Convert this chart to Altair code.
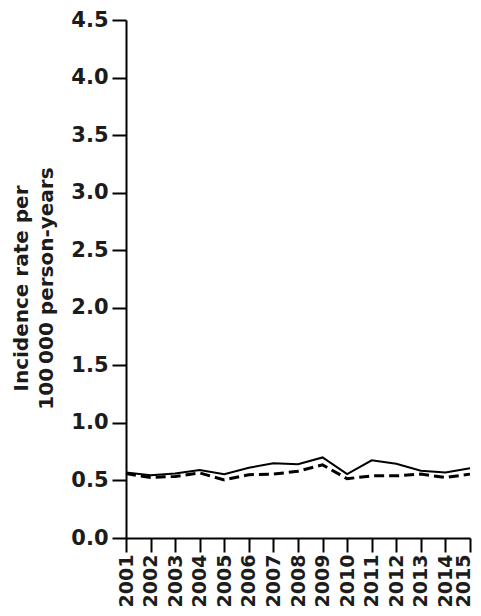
import altair as alt
import pandas as pd

years = list(range(2001, 2016))
solid = [0.57, 0.545, 0.56, 0.59, 0.555, 0.61, 0.65, 0.64, 0.70, 0.555, 0.675, 0.645, 0.585, 0.57, 0.605]
dashed = [0.56, 0.525, 0.535, 0.565, 0.505, 0.55, 0.555, 0.58, 0.635, 0.515, 0.54, 0.54, 0.555, 0.525, 0.555]
y_ticks = [0.0, 0.5, 1.0, 1.5, 2.0, 2.5, 3.0, 3.5, 4.0, 4.5]
y_title = ["Incidence rate per", "100\u2009000 person-years"]

rows = []
for yr, v in zip(years, solid):
    rows.append({"year": yr, "rate": v, "series": "solid"})
for yr, v in zip(years, dashed):
    rows.append({"year": yr, "rate": v, "series": "dashed"})
df = pd.DataFrame(rows)

FONT = "DejaVu Sans"
INK = "#1c1c1c"

base = alt.Chart(df).encode(
    x=alt.X("year:Q",
            scale=alt.Scale(domain=[2001, 2015], nice=False, zero=False),
            axis=alt.Axis(values=years, format="d", labelAngle=-90, labelAlign="right",
                          labelBaseline="middle", labelPadding=2, tickSize=14, tickWidth=2,
                          domainWidth=2, domainColor="black", tickColor="black",
                          labelFont=FONT, labelFontSize=19, labelFontWeight="bold",
                          labelColor=INK, grid=False, title=None, labelOverlap=False,
                          labelFlush=False,
                          labelOffset={"condition": {"test": "datum.value === 2015", "value": -7},
                                       "value": 0})),
    y=alt.Y("rate:Q",
            scale=alt.Scale(domain=[0, 4.5], nice=False),
            axis=alt.Axis(values=y_ticks, format=".1f", tickSize=14, tickWidth=2,
                          domainWidth=2, domainColor="black", tickColor="black",
                          labelFont=FONT, labelFontSize=21, labelFontWeight="bold",
                          labelColor=INK, labelPadding=4, grid=False,
                          title=y_title, titleFont=FONT, titleFontSize=20,
                          titleFontWeight="bold", titleColor=INK, titleLineHeight=25,
                          titleX=-95, titleY=268, titleAlign="center",
                          titleBaseline="bottom", labelFlush=False)),
)

line_solid = base.transform_filter(alt.datum.series == "solid").mark_line(
    color="black", strokeWidth=2)
line_dashed = base.transform_filter(alt.datum.series == "dashed").mark_line(
    color="black", strokeWidth=3, strokeDash=[10, 5])

chart = alt.layer(line_solid, line_dashed).properties(
    width=344, height=518,
    autosize=alt.AutoSizeParams(type="none"),
    padding={"left": 118, "top": 12, "right": 3, "bottom": 70},
).configure(background="white").configure_view(stroke=None)

chart.save("out.html", embed_options={"renderer": "svg", "actions": False})
